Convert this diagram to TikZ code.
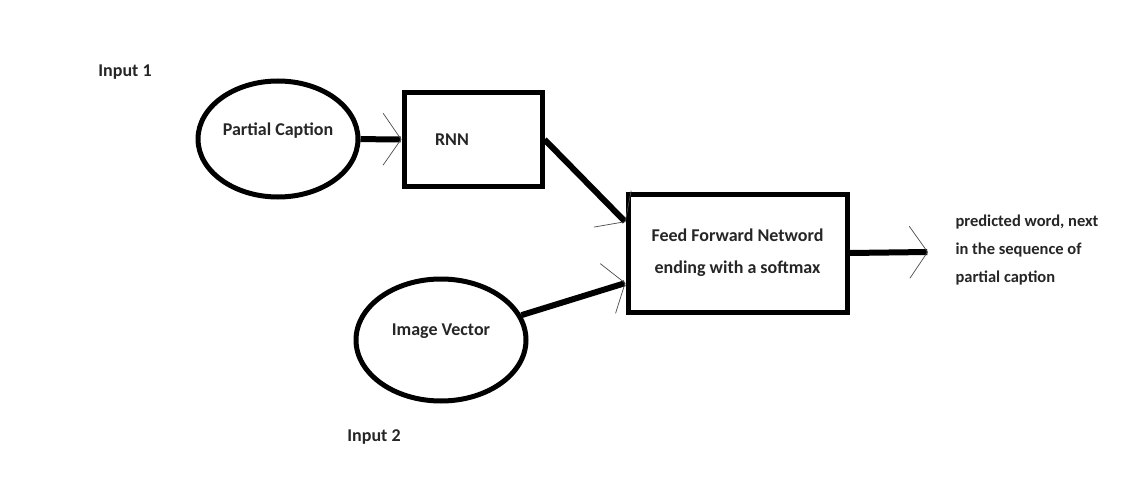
\documentclass[tikz,border=0pt]{standalone}
\usepackage{fontspec}
\setmainfont{Carlito}
\usetikzlibrary{shapes.geometric,arrows.meta}

\begin{document}
\begin{tikzpicture}[x=1pt,y=-1pt,
    txt/.style={font=\fontsize{18pt}{21pt}\selectfont\bfseries,text=black!85},
    elipse/.style={ellipse,draw,line width=5pt,txt,text depth=20pt,inner sep=0pt},
    caja/.style={rectangle,draw,line width=5pt,txt},
    flecha/.style={line width=6pt,-{Straight Barb[length=18pt,width=52pt,line width=0.7pt,color=black!70]}}]
    %colores
    \colorlet{fondo}{white}
    \useasboundingbox[fill=fondo] (0,0) rectangle (1122,492);

    % entradas
    \node[txt] (in1) at (125,72) {Input 1};
    \node[txt] (in2) at (374,437) {Input 2};

    % elipses
    \node[elipse,minimum width=160pt,minimum height=116pt] (pc) at (278,139) {Partial Caption};
    \node[elipse,minimum width=170pt,minimum height=122pt] (img) at (441,340) {Image Vector};

    % cajas
    \node[caja,minimum width=138pt,minimum height=93pt,text width=76pt,align=left] (rnn) at (473,139.5) {RNN};
    \node[caja,minimum width=219pt,minimum height=118pt,align=center,
          font=\fontsize{18pt}{32pt}\selectfont\bfseries] (ffn) at (737.5,253) {Feed Forward Netword\\ending with a softmax};

    % salida
    \node[txt,anchor=west,align=left,font=\fontsize{16.5pt}{28pt}\selectfont\bfseries] (out) at (952,250)
        {predicted word, next\\in the sequence of\\partial caption};
    \coordinate (fin) at (928,252);

    % conexiones
    \draw[flecha] (pc) -- (rnn);
    \draw[flecha] (rnn.east) -- ([yshift=31pt]ffn.west);
    \draw[flecha] (img) -- ([yshift=-30pt]ffn.west);
    \draw[flecha] (ffn.east) -- (fin);
\end{tikzpicture}
\end{document}
